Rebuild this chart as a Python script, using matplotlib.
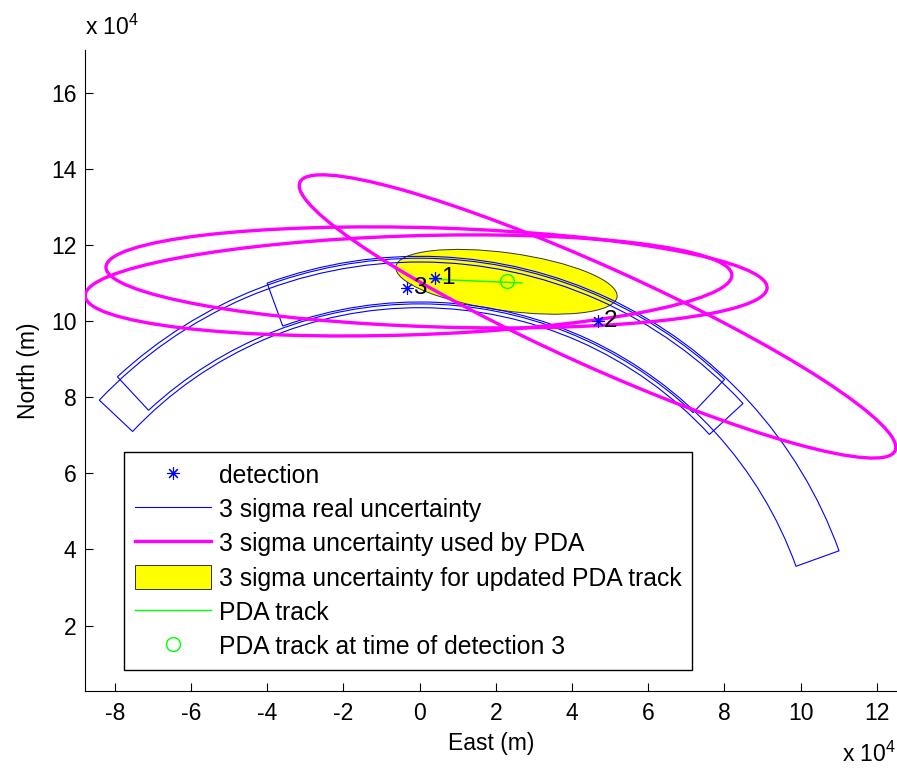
import matplotlib
matplotlib.use('Agg')
import matplotlib.pyplot as plt
from matplotlib.patches import Wedge, Ellipse, Patch
from matplotlib.lines import Line2D

plt.rcParams['font.family'] = ['Liberation Sans', 'DejaVu Sans']
plt.rcParams['mathtext.fontset'] = 'custom'
plt.rcParams['mathtext.rm'] = 'Liberation Sans'

# ---------------- data (metres) ----------------
det_x = [4100, 46900, -3300]
det_y = [111300, 99900, 108700]
det_labels = ['1', '2', '3']

# 3 sigma real uncertainty: range/bearing sectors seen from the sensor at origin
sensor_xy = (0, 0)
band_r_inner = [104500, 105000, 103500]
band_r_outer = [116500, 117000, 115500]
band_theta_min = [46.6, 19.8, 42.7]
band_theta_max = [132.9, 110.0, 136.7]

# 3 sigma uncertainty used by PDA (ellipses)
pda_cx = [4450, 46700, -2900]
pda_cy = [111450, 101200, 109350]
pda_w = [173600, 171400, 169800]
pda_h = [26000, 26000, 26000]
pda_ang = [-1.8, -24.3, 1.85]

# updated PDA track uncertainty
upd_cx, upd_cy = 22800, 110300
upd_w, upd_h, upd_ang = 58600, 15200, -7.8

# PDA track
trk_x = [2800, 26900]
trk_y = [111000, 110000]
trk_t3_x = [23000]
trk_t3_y = [110500]

xticks = [-80000, -60000, -40000, -20000, 0, 20000, 40000, 60000, 80000, 100000, 120000]
xtick_labels = ['-8', '-6', '-4', '-2', '0', '2', '4', '6', '8', '10', '12']
yticks = [20000, 40000, 60000, 80000, 100000, 120000, 140000, 160000]
ytick_labels = ['2', '4', '6', '8', '10', '12', '14', '16']

# ---------------- figure ----------------
fig = plt.figure(figsize=(8.97, 7.69), dpi=100)
ax = fig.add_axes([0.0944, 0.1014, 0.9056, 0.8336])

yel = Ellipse((upd_cx, upd_cy), upd_w, upd_h, angle=upd_ang,
              facecolor='#ffff00', edgecolor='#333333', lw=0.7, zorder=1)
ax.add_patch(yel)

for ri, ro, t1, t2 in zip(band_r_inner, band_r_outer, band_theta_min, band_theta_max):
    ax.add_patch(Wedge(sensor_xy, ro, t1, t2, width=ro - ri, fill=False,
                       edgecolor='#0000ff', lw=0.8, zorder=2))

for cx, cy, w, h, a in zip(pda_cx, pda_cy, pda_w, pda_h, pda_ang):
    ax.add_patch(Ellipse((cx, cy), w, h, angle=a, fill=False,
                         edgecolor='#ff00ff', lw=2.4, zorder=3))

ax.plot(trk_x, trk_y, color='#00ff00', lw=1.0, zorder=4)
ax.plot(trk_t3_x, trk_t3_y, 'o', mfc='none', mec='#00ff00', ms=10, mew=1.0, zorder=5)
ax.plot(det_x, det_y, ls='none', marker=(8, 2, 0), color='#0000ff', ms=9, mew=0.8, zorder=6)
for x, y, s in zip(det_x, det_y, det_labels):
    ax.text(x + 1500, y, s, fontsize=17.5, ha='left', va='center', zorder=7)

ax.set_xlim(-87900, 125300)
ax.set_ylim(2800, 171200)
ax.set_xticks(xticks)
ax.set_xticklabels(xtick_labels)
ax.set_yticks(yticks)
ax.set_yticklabels(ytick_labels)
ax.tick_params(direction='in', length=6, width=0.8, labelsize=16.5, pad=6)
ax.tick_params(axis='x', pad=8)
for s in ['top', 'right']:
    ax.spines[s].set_visible(False)
for s in ['left', 'bottom']:
    ax.spines[s].set_linewidth(0.8)

ax.set_xlabel('East (m)', fontsize=16.5, labelpad=5)
ax.set_ylabel('North (m)', fontsize=16.5, labelpad=8)

fig.text(85 / 897, 1 - 35 / 769, r'x 10$^{4}$', fontsize=16.5, ha='left', va='baseline')
fig.text(842 / 897, 1 - 762 / 769, r'x 10$^{4}$', fontsize=16.5, ha='left', va='baseline')

handles = [
    Line2D([], [], ls='none', marker=(8, 2, 0), color='#0000ff', ms=9, mew=0.8),
    Line2D([], [], color='#0000ff', lw=0.8),
    Line2D([], [], color='#ff00ff', lw=2.4),
    Patch(facecolor='#ffff00', edgecolor='#333333', lw=0.7),
    Line2D([], [], color='#00ff00', lw=1.0),
    Line2D([], [], ls='none', marker='o', mfc='none', mec='#00ff00', ms=10, mew=1.0),
]
labels = ['detection', '3 sigma real uncertainty', '3 sigma uncertainty used by PDA',
          '3 sigma uncertainty for updated PDA track', 'PDA track',
          'PDA track at time of detection 3']
leg = ax.legend(handles, labels, loc='upper left',
                bbox_to_anchor=(124 / 897, 1 - 451.7 / 769), bbox_transform=fig.transFigure,
                borderaxespad=0, fontsize=17.8, fancybox=False, framealpha=1,
                edgecolor='black', handlelength=3.05, handleheight=1.1,
                handletextpad=0.33, labelspacing=0.36, borderpad=0.45, numpoints=1)
leg.get_frame().set_linewidth(1.0)

fig.savefig('out.png', dpi=100)
